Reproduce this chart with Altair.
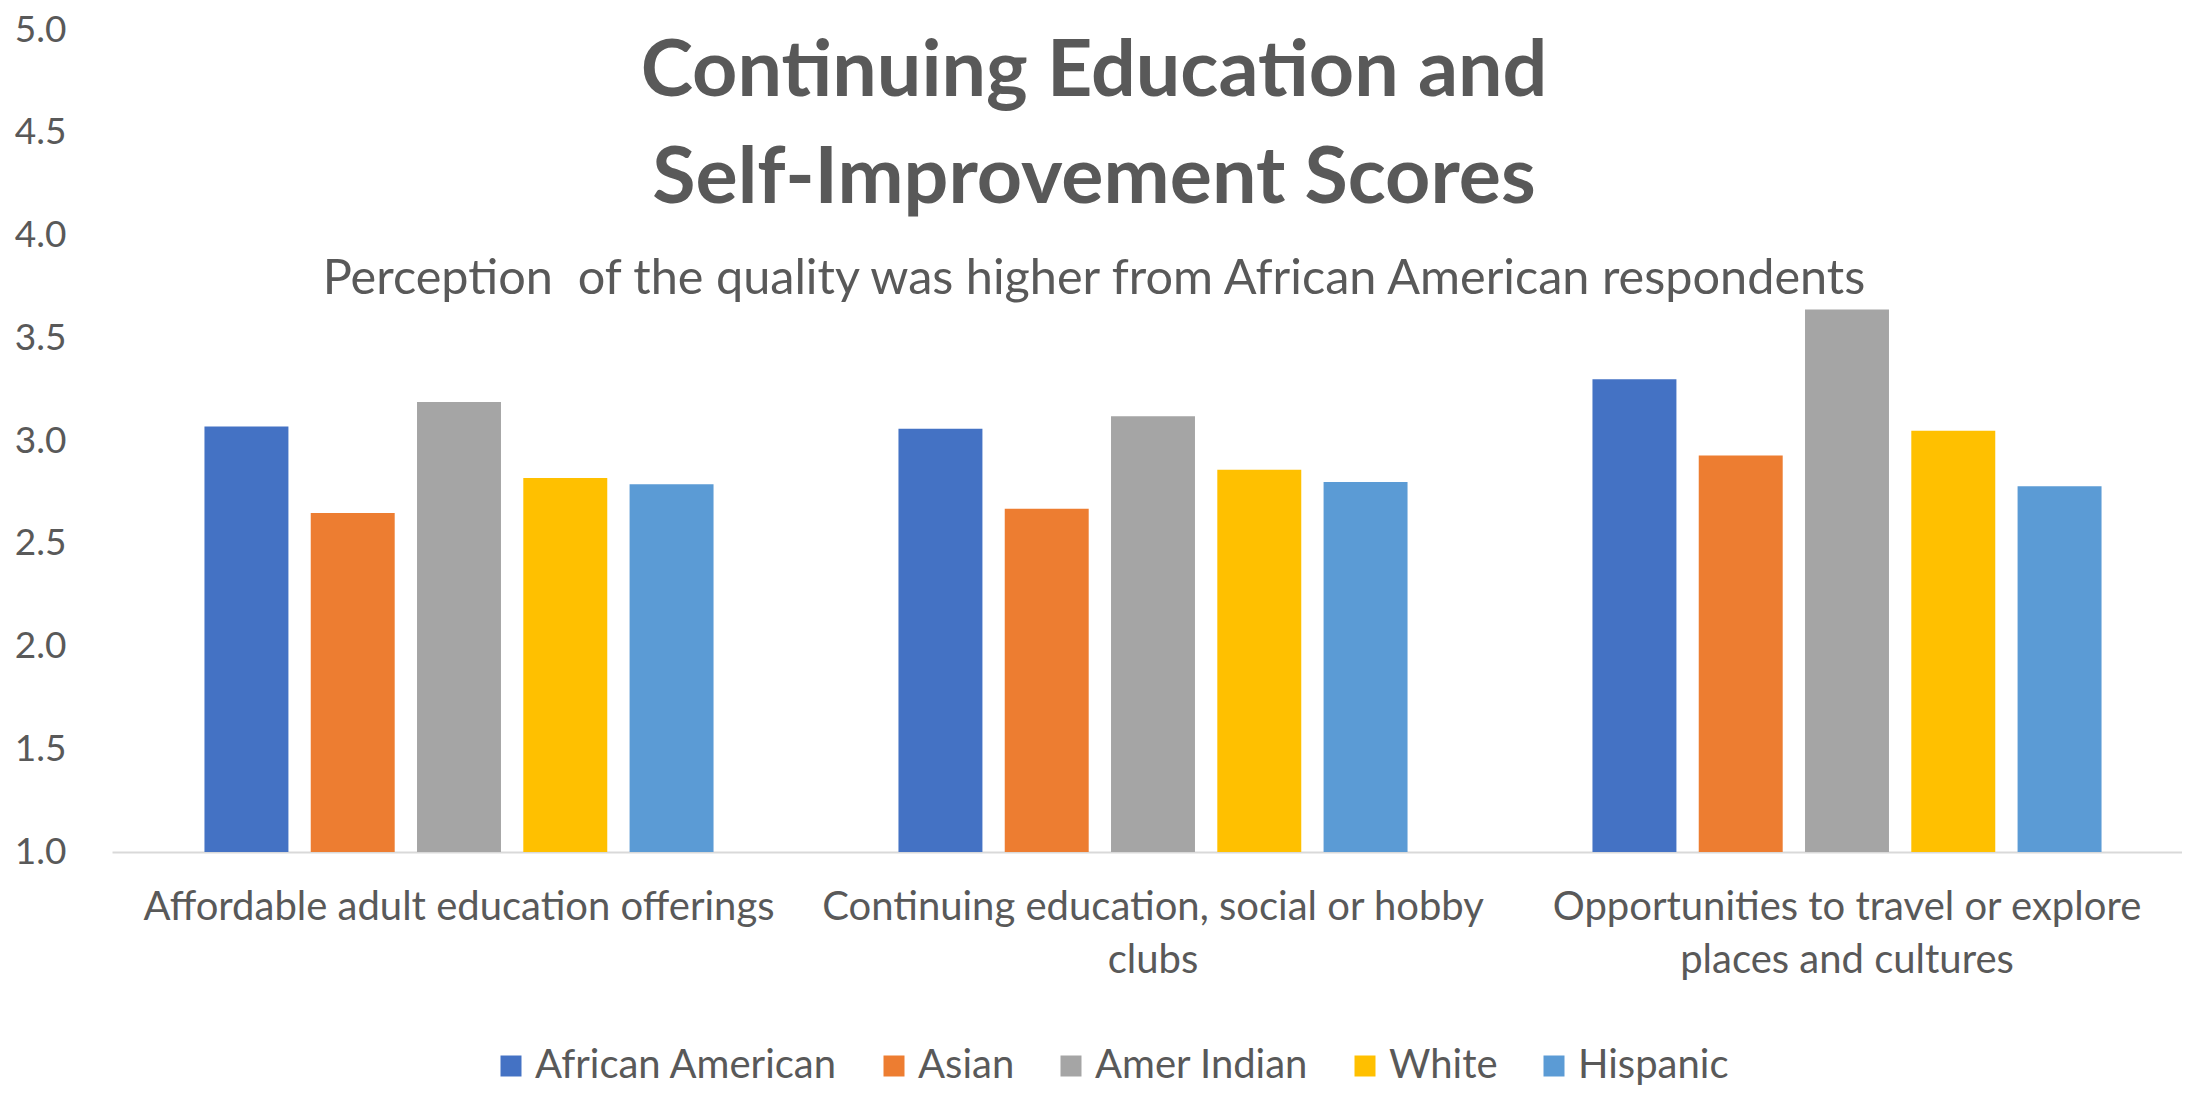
import altair as alt
import pandas as pd

categories = [
    "Affordable adult education offerings",
    "Continuing education, social or hobby clubs",
    "Opportunities to travel or explore places and cultures",
]
category_lines = [
    ["Affordable adult education offerings"],
    ["Continuing education, social or hobby", "clubs"],
    ["Opportunities to travel or explore", "places and cultures"],
]
groups = ["African American", "Asian", "Amer Indian", "White", "Hispanic"]
colors = ["#4472C4", "#ED7D31", "#A5A5A5", "#FFC000", "#5B9BD5"]

african_american = [3.07, 3.06, 3.30]
asian = [2.65, 2.67, 2.93]
amer_indian = [3.19, 3.12, 3.64]
white = [2.82, 2.86, 3.05]
hispanic = [2.79, 2.80, 2.78]

y_ticks = [1.0, 1.5, 2.0, 2.5, 3.0, 3.5, 4.0, 4.5, 5.0]

series = [african_american, asian, amer_indian, white, hispanic]
rows = []
for g, vals in zip(groups, series):
    for c, v in zip(categories, vals):
        rows.append({"category": c, "group": g, "value": v})
df = pd.DataFrame(rows)

# label expression producing multi-line labels
parts = []
for c, lines in zip(categories, category_lines):
    arr = "[" + ",".join("'" + l.replace("'", "\\'") + "'" for l in lines) + "]"
    parts.append(f"datum.value == '{c}' ? {arr} : ")
label_expr = "".join(parts) + "datum.label"

TEXT = "#595959"
FONT = "Lato"

chart = (
    alt.Chart(df)
    .mark_bar()
    .encode(
        x=alt.X(
            "category:N",
            sort=categories,
            scale=alt.Scale(paddingInner=0, paddingOuter=0, range=[0, 2082]),
            axis=alt.Axis(
                title=None,
                labelAngle=0,
                ticks=False,
                domain=True,
                domainColor="#D9D9D9",
                domainWidth=2,
                labelFontSize=40,
                labelColor=TEXT,
                labelFont=FONT,
                labelPadding=35,
                labelLineHeight=53,
                labelExpr=label_expr,
                labelLimit=1000,
            ),
        ),
        xOffset=alt.XOffset(
            "group:N",
            sort=groups,
            scale=alt.Scale(paddingInner=0.21, paddingOuter=0.87),
        ),
        y=alt.Y(
            "value:Q",
            scale=alt.Scale(domain=[1, 5], nice=False, zero=False),
            axis=alt.Axis(
                title=None,
                values=y_ticks,
                format=".1f",
                grid=False,
                domain=False,
                ticks=False,
                labelFontSize=37,
                labelColor=TEXT,
                labelFont=FONT,
                labelPadding=46,
            ),
        ),
        y2=alt.datum(1),
        color=alt.Color(
            "group:N",
            sort=groups,
            scale=alt.Scale(domain=groups, range=colors),
            legend=alt.Legend(
                title=None,
                orient="none",
                direction="horizontal",
                legendX=379,
                legendY=1016,
                symbolType="square",
                symbolSize=441,
                symbolStrokeWidth=0,
                labelFontSize=40,
                labelFont=FONT,
                labelColor=TEXT,
                labelOffset=4,
                columnPadding=36,
                labelLimit=1000,
            ),
        ),
    )
    .properties(
        width=2070,
        height=822,
        background="white",
        autosize=alt.AutoSizeParams(type="none"),
        padding={"left": 104, "top": 22, "right": 0, "bottom": 236},
        title=alt.TitleParams(
            text=["Continuing Education and", "Self-Improvement Scores"],
            subtitle="Perception\u00a0 of the quality was higher from African American respondents",
            font=FONT,
            fontSize=79,
            fontWeight="bold",
            color=TEXT,
            lineHeight=107,
            subtitleFont=FONT,
            subtitleFontSize=48.6,
            subtitleColor=TEXT,
            subtitlePadding=36,
            anchor="middle",
            dx=-53,
            dy=298,
        ),
    )
    .configure_view(strokeWidth=0, stroke="transparent")
)

chart.save("out.html", embed_options={"renderer": "svg", "actions": False})
